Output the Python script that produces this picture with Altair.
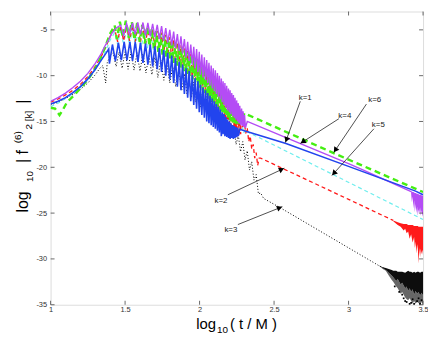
import math
import altair as alt
import pandas as pd

X_DOMAIN = [1, 3.5]
Y_DOMAIN = [-35, -3]
X_TICKS = [1, 1.5, 2, 2.5, 3, 3.5]
Y_TICKS = [-35, -30, -25, -20, -15, -10, -5]

# k=1 (blue, solid)
K1 = [(1.00,-13.1),(1.05,-12.8),(1.10,-12.4),(1.15,-11.85),(1.20,-11.2),(1.25,-10.35),(1.30,-9.3),(1.34,-8.3),(1.37,-7.6),(1.39,-7.1),
      (1.395,-8.7),(1.415,-6.6),(1.435,-8.4),(1.455,-6.4),(1.475,-8.3),(1.494,-6.3),(1.513,-8.3),(1.532,-6.3),(1.55,-8.4),(1.568,-6.3),
      (1.586,-8.5),(1.603,-6.4),(1.62,-8.6),(1.637,-6.5),(1.653,-8.8),(1.669,-6.6),(1.685,-9.0),(1.70,-6.8),(1.716,-9.3),(1.73,-7.0),
      (1.745,-9.6),(1.759,-7.2),(1.773,-10.0),(1.786,-7.5),(1.80,-10.4),(1.813,-7.8),(1.826,-10.8),(1.838,-8.1),(1.851,-11.2),(1.863,-8.5),
      (1.875,-11.6),(1.886,-8.8),(1.898,-12.0),(1.909,-9.2),(1.92,-12.4),(1.93,-9.5),(1.941,-12.8),(1.951,-9.9),(1.961,-13.2),(1.97,-10.3),
      (1.98,-13.6),(1.989,-10.6),(1.998,-14.0),(2.006,-11.0),(2.015,-14.3),(2.023,-11.3),(2.032,-14.6),(2.04,-11.6),(2.048,-15.0),(2.055,-11.9),
      (2.063,-15.2),(2.07,-12.2),(2.078,-15.4),(2.085,-12.5),(2.092,-15.6),(2.099,-12.8),(2.106,-15.8),(2.113,-13.1),(2.12,-16.0),(2.126,-13.4),
      (2.133,-16.2),(2.139,-13.7),(2.146,-16.6),(2.152,-14.0),(2.158,-16.4),(2.164,-14.2),(2.17,-16.6),(2.176,-14.5),(2.182,-16.7),(2.188,-14.8),
      (2.194,-16.8),(2.20,-15.0),(2.205,-16.9),(2.21,-15.2),(2.216,-16.8),(2.222,-15.4),(2.227,-16.9),(2.233,-15.5),(2.238,-16.8),(2.244,-15.6),
      (2.249,-16.7),(2.255,-15.7),(2.26,-16.6),(2.27,-15.85),(2.30,-16.0),(2.58,-17.4),(3.00,-19.9),(3.45,-22.6),(3.50,-23.0)]

# k=4 (purple, solid)
K4 = [(1.00,-12.8),(1.05,-12.4),(1.10,-11.9),(1.15,-11.3),(1.20,-10.6),(1.25,-9.75),(1.30,-8.65),(1.34,-7.6),(1.37,-6.6),(1.39,-6.1),
      (1.41,-5.4),(1.44,-4.8),(1.47,-4.5),(1.49,-5.6),(1.51,-4.3),(1.53,-5.5),(1.55,-4.25),(1.568,-5.5),(1.585,-4.2),(1.603,-5.5),
      (1.62,-4.2),(1.637,-5.6),(1.653,-4.25),(1.669,-5.7),(1.685,-4.35),(1.70,-5.8),(1.716,-4.45),(1.73,-6.0),(1.745,-4.6),(1.759,-6.2),
      (1.773,-4.8),(1.786,-6.4),(1.80,-5.0),(1.813,-6.7),(1.826,-5.2),(1.838,-7.0),(1.851,-5.45),(1.863,-7.3),(1.875,-5.7),(1.886,-7.6),
      (1.898,-6.0),(1.909,-8.0),(1.92,-6.3),(1.93,-8.4),(1.941,-6.6),(1.951,-8.8),(1.961,-6.85),(1.97,-9.2),(1.98,-7.1),(1.989,-9.6),
      (1.998,-7.4),(2.006,-9.9),(2.015,-7.7),(2.023,-10.2),(2.032,-8.0),(2.04,-10.5),(2.048,-8.3),(2.055,-10.8),(2.063,-8.6),(2.07,-11.1),
      (2.078,-8.9),(2.085,-11.4),(2.092,-9.2),(2.099,-11.7),(2.106,-9.4),(2.113,-12.0),(2.12,-9.7),(2.126,-12.3),(2.133,-10.0),(2.139,-12.6),
      (2.146,-10.3),(2.152,-12.9),(2.158,-10.6),(2.164,-13.2),(2.17,-10.8),(2.176,-13.5),(2.182,-11.1),(2.188,-13.8),(2.194,-11.4),(2.20,-14.0),
      (2.205,-11.6),(2.21,-14.2),(2.216,-11.9),(2.222,-14.4),(2.227,-12.1),(2.233,-14.6),(2.238,-12.4),(2.244,-14.8),(2.249,-12.7),(2.255,-15.0),
      (2.26,-13.0),(2.265,-15.2),(2.27,-13.3),(2.276,-15.4),(2.282,-13.6),(2.287,-15.5),(2.292,-13.9),(2.297,-15.6),(2.302,-14.3),(2.308,-15.7),
      (2.32,-15.0),(2.60,-16.9),(3.00,-19.6),(3.10,-20.3),(3.42,-22.65)]
K4_NOISE_X = [3.42, 3.425, 3.43, 3.435, 3.44, 3.445, 3.45, 3.455, 3.46, 3.465, 3.47, 3.475, 3.48, 3.485, 3.49, 3.495, 3.50]
K4_NOISE_TOP = [-22.6, -22.65, -22.7, -22.7, -22.75, -22.8, -22.8, -22.85, -22.9, -22.9, -22.95, -23.0, -23.0, -23.0, -23.05, -23.1, -23.1]
K4_NOISE_LOW = [-22.9, -23.8, -23.2, -24.5, -23.6, -24.9, -24.0, -25.0, -24.3, -25.3, -24.6, -25.0, -24.4, -25.3, -24.7, -25.4, -24.9]

# k=6 (green, thick dashed)
K6 = [(1.00,-13.5),(1.03,-13.6),(1.06,-14.3),(1.08,-13.8),(1.11,-12.9),(1.16,-12.1),(1.21,-11.2),(1.26,-10.2),(1.30,-9.2),(1.34,-7.9),
      (1.37,-6.7),(1.40,-5.4),(1.43,-4.5),(1.445,-6.0),(1.465,-4.1),(1.485,-5.8),(1.505,-4.0),(1.525,-5.9),(1.545,-4.1),(1.563,-6.1),
      (1.581,-4.25),(1.598,-6.3),(1.615,-4.45),(1.632,-6.5),(1.648,-4.65),(1.664,-6.8),(1.679,-4.9),(1.694,-7.1),(1.709,-5.15),(1.723,-7.4),
      (1.737,-5.4),(1.751,-7.7),(1.764,-5.65),(1.777,-8.0),(1.79,-5.9),(1.802,-8.3),(1.814,-6.15),(1.826,-8.6),(1.838,-6.4),(1.85,-8.9),
      (1.861,-6.65),(1.872,-9.2),(1.883,-6.9),(1.894,-9.5),(1.904,-7.2),(1.914,-9.8),(1.924,-7.45),(1.934,-10.1),(1.944,-7.7),(1.953,-10.4),
      (1.962,-7.95),(1.971,-10.7),(1.98,-8.2),(1.989,-11.0),(1.997,-8.45),(2.005,-11.3),(2.013,-8.7),(2.021,-11.6),(2.029,-8.95),(2.037,-11.9),
      (2.045,-9.2),(2.052,-12.2),(2.059,-9.45),(2.066,-12.5),(2.073,-9.7),(2.08,-12.8),(2.087,-9.95),(2.094,-13.0),(2.101,-10.2),(2.108,-13.3),
      (2.114,-10.45),(2.12,-13.5),(2.127,-10.7),(2.133,-13.7),(2.139,-10.95),(2.145,-13.9),(2.151,-11.2),(2.157,-14.1),(2.163,-11.45),(2.169,-14.3),
      (2.175,-11.7),(2.181,-14.5),(2.187,-11.95),(2.193,-14.7),(2.198,-12.2),(2.204,-14.9),(2.21,-12.45),(2.215,-15.0),(2.22,-12.7),(2.226,-15.1),
      (2.231,-12.95),(2.236,-15.2),(2.242,-13.2),(2.247,-15.3),(2.252,-13.4),(2.257,-15.3),(2.262,-13.6),(2.267,-15.3),(2.272,-13.8),(2.277,-15.2),
      (2.283,-14.0),(2.288,-15.0),(2.30,-14.1),(2.90,-18.45),(3.50,-22.7)]

# k=2 (red, dashed)
K2 = [(1.00,-12.9),(1.05,-12.55),(1.10,-12.1),(1.15,-11.6),(1.20,-10.95),(1.25,-10.1),(1.30,-9.0),(1.34,-7.9),(1.37,-6.9),(1.40,-5.7),
      (1.43,-4.9),(1.45,-6.3),(1.47,-4.6),(1.49,-6.2),(1.51,-4.5),(1.53,-6.2),(1.55,-4.5),(1.568,-6.3),(1.586,-4.55),(1.603,-6.4),
      (1.62,-4.6),(1.637,-6.6),(1.653,-4.75),(1.669,-6.8),(1.685,-4.9),(1.70,-7.1),(1.716,-5.1),(1.73,-7.4),(1.745,-5.3),(1.759,-7.7),
      (1.773,-5.55),(1.786,-8.0),(1.80,-5.8),(1.813,-8.3),(1.826,-6.1),(1.838,-8.6),(1.851,-6.4),(1.863,-8.9),(1.875,-6.7),(1.886,-9.3),
      (1.898,-7.0),(1.909,-9.7),(1.92,-7.3),(1.93,-10.1),(1.941,-7.6),(1.951,-10.5),(1.961,-7.9),(1.97,-10.9),(1.98,-8.2),(1.989,-11.2),
      (1.998,-8.5),(2.006,-11.6),(2.015,-8.8),(2.023,-11.9),(2.032,-9.1),(2.04,-12.3),(2.048,-9.4),(2.055,-12.6),(2.063,-9.7),(2.07,-13.0),
      (2.078,-10.0),(2.085,-13.3),(2.092,-10.3),(2.099,-13.6),(2.106,-10.6),(2.113,-13.9),(2.12,-10.9),(2.126,-14.2),(2.133,-11.2),(2.139,-14.5),
      (2.146,-11.5),(2.152,-14.8),(2.158,-11.8),(2.164,-15.1),(2.17,-12.1),(2.176,-15.4),(2.182,-12.4),(2.188,-15.7),(2.194,-12.7),(2.20,-16.0),
      (2.205,-13.0),(2.21,-16.2),(2.216,-13.3),(2.222,-16.4),(2.227,-13.6),(2.233,-16.5),(2.238,-13.9),(2.244,-16.6),(2.249,-14.1),(2.255,-16.6),
      (2.26,-14.2),(2.265,-16.5),(2.27,-14.3),(2.276,-16.4),(2.28,-14.4),(2.29,-15.6),(2.30,-15.0),(2.31,-16.3),(2.32,-15.7),(2.33,-17.2),
      (2.34,-16.6),(2.35,-18.0),(2.36,-17.5),(2.37,-19.0),(2.38,-18.4),(2.39,-19.8),(2.40,-19.0),(2.41,-19.0),(3.00,-23.5),(3.30,-25.8)]
K2_NOISE_X = [3.30, 3.33, 3.35, 3.37, 3.38, 3.39, 3.40, 3.41, 3.42, 3.43, 3.44, 3.445, 3.45, 3.455, 3.46, 3.465, 3.47, 3.475, 3.48, 3.485, 3.49, 3.495, 3.50]
K2_NOISE_TOP = [-25.8, -26.0, -26.1, -26.2, -26.2, -26.2, -26.3, -26.3, -26.3, -26.3, -26.4, -26.4, -26.4, -26.4, -26.4, -26.4, -26.5, -26.5, -26.5, -26.5, -26.5, -26.5, -26.5]
K2_NOISE_LOW = [-25.9, -26.3, -26.5, -26.9, -26.7, -27.2, -27.0, -27.8, -27.3, -28.2, -27.6, -28.8, -28.1, -29.4, -28.4, -28.9, -30.5, -28.8, -29.8, -28.9, -29.5, -29.0, -29.6]

# k=5 (cyan, dashed)
K5 = [(1.00,-13.4),(1.05,-13.0),(1.10,-12.5),(1.15,-11.95),(1.20,-11.3),(1.25,-10.45),(1.30,-9.35),(1.34,-8.3),(1.37,-7.3),(1.40,-6.1),
      (1.43,-5.3),(1.45,-6.6),(1.47,-4.9),(1.49,-6.7),(1.51,-4.85),(1.53,-6.7),(1.55,-4.8),(1.57,-6.8),(1.59,-4.85),(1.61,-6.9),
      (1.63,-4.9),(1.65,-7.0),(1.67,-5.05),(1.69,-7.2),(1.71,-5.25),(1.73,-7.5),(1.75,-5.55),(1.77,-7.8),(1.79,-5.9),(1.81,-8.2),
      (1.83,-6.3),(1.85,-8.6),(1.87,-6.8),(1.89,-9.1),(1.91,-7.3),(1.93,-9.6),(1.95,-7.9),(1.965,-10.1),(1.98,-8.3),(1.995,-10.6),
      (2.01,-8.7),(2.025,-11.1),(2.04,-9.2),(2.055,-11.6),(2.07,-9.7),(2.085,-12.1),(2.10,-10.3),(2.115,-12.7),(2.13,-10.9),(2.145,-13.3),
      (2.16,-11.6),(2.175,-13.9),(2.19,-12.3),(2.205,-14.5),(2.22,-13.0),(2.235,-15.1),(2.25,-13.9),(2.265,-15.8),(2.28,-14.7),(2.295,-16.3),
      (2.31,-15.8),(2.33,-16.2),(3.50,-25.7)]

# k=3 (black, dotted)
K3 = [(1.00,-13.2),(1.05,-12.9),(1.10,-12.5),(1.15,-12.05),(1.20,-11.5),(1.25,-10.8),(1.30,-9.9),(1.33,-9.2),(1.35,-8.9),(1.37,-10.8),
      (1.38,-8.6),(1.40,-7.8),(1.42,-7.5),(1.44,-9.0),(1.46,-7.4),(1.48,-9.2),(1.50,-7.4),(1.52,-9.3),(1.54,-7.4),(1.56,-9.4),
      (1.58,-7.5),(1.60,-9.5),(1.62,-7.6),(1.64,-9.7),(1.66,-7.8),(1.68,-9.9),(1.70,-8.0),(1.72,-10.2),(1.74,-8.3),(1.76,-10.5),
      (1.78,-8.6),(1.80,-10.8),(1.82,-9.0),(1.84,-11.2),(1.86,-9.4),(1.88,-11.6),(1.90,-9.8),(1.915,-12.0),(1.93,-10.2),(1.945,-12.4),
      (1.96,-10.7),(1.975,-12.9),(1.99,-11.2),(2.005,-13.4),(2.02,-11.7),(2.035,-13.9),(2.05,-12.2),(2.065,-14.4),(2.08,-12.8),(2.095,-14.9),
      (2.11,-13.3),(2.125,-15.4),(2.14,-13.9),(2.155,-15.9),(2.17,-14.5),(2.185,-16.3),(2.20,-15.0),(2.215,-16.7),(2.23,-15.6),(2.245,-17.5),
      (2.26,-16.5),(2.275,-18.3),(2.29,-17.2),(2.305,-19.2),(2.32,-18.2),(2.335,-20.3),(2.35,-19.4),(2.365,-21.4),(2.38,-20.8),(2.395,-22.9),
      (2.41,-22.8),(2.43,-23.4),(2.54,-24.4),(3.20,-30.7),(3.27,-31.3)]
K3_NOISE_X = [3.20, 3.23, 3.25, 3.27, 3.29, 3.30, 3.32, 3.33, 3.35, 3.36, 3.38, 3.39, 3.40, 3.41, 3.42, 3.43, 3.44, 3.45, 3.46, 3.47, 3.48, 3.49, 3.50]
K3_NOISE_TOP = [-30.7, -30.9, -31.0, -31.1, -31.2, -31.3, -31.3, -31.4, -31.4, -31.4, -31.5, -31.4, -31.3, -31.4, -31.4, -31.5, -31.4, -31.5, -31.4, -31.4, -31.5, -31.4, -31.4]
K3_NOISE_MID = [-30.7, -31.0, -31.2, -31.5, -31.8, -32.0, -32.4, -32.2, -32.8, -32.6, -33.2, -33.0, -33.5, -33.2, -33.6, -33.3, -33.9, -33.5, -33.8, -33.6, -34.0, -33.7, -34.0]
K3_NOISE_LOW = [-30.7, -31.1, -31.3, -31.8, -32.3, -32.5, -33.0, -33.2, -33.8, -33.6, -34.2, -34.4, -34.5, -34.3, -34.6, -34.9, -34.6, -34.9, -34.7, -34.8, -35.0, -34.7, -35.0]
K3_SPECK_X = [3.34, 3.37, 3.39, 3.41, 3.43, 3.44, 3.46, 3.48, 3.49, 3.36, 3.42, 3.47, 3.31, 3.38]
K3_SPECK_Y = [-33.6, -34.3, -34.7, -34.9, -34.4, -34.9, -34.6, -34.9, -34.5, -33.9, -34.8, -34.3, -33.0, -34.6]

# annotations: label position, arrow start, arrow tip
LABELS = ["k=1", "k=4", "k=6", "k=5", "k=2", "k=3"]
LAB_X = [2.709, 2.975, 3.176, 3.200, 2.144, 2.210]
LAB_Y = [-12.44, -14.40, -12.66, -15.40, -23.70, -26.90]
ARR_X0 = [2.676, 2.935, 3.120, 3.170, 2.190, 2.257]
ARR_Y0 = [-12.80, -14.70, -13.10, -15.80, -23.00, -26.25]
ARR_X1 = [2.576, 2.676, 2.900, 2.888, 2.569, 2.556]
ARR_Y1 = [-17.30, -17.40, -18.40, -20.90, -20.10, -24.30]

W, H = 376, 296
XS = alt.Scale(domain=X_DOMAIN, nice=False, zero=False)
YS = alt.Scale(domain=Y_DOMAIN, nice=False, zero=False)
FONT = "Liberation Sans"
AX = alt.Axis(values=X_TICKS, grid=False, ticks=False, domain=False, labelFontSize=7.5,
              labelColor="#333", labelPadding=1, labelFont=FONT, title=None,
              labelExpr="'' + datum.value", labelFlush=False)
AY = alt.Axis(values=Y_TICKS, grid=False, ticks=False, domain=False, labelFontSize=7.5,
              labelColor="#333", labelPadding=4, labelFont=FONT, title=None,
              labelExpr="'' + datum.value", labelFlush=False)


def X(f):
    return alt.X(f, scale=XS, axis=AX)


def Y(f):
    return alt.Y(f, scale=YS, axis=AY)


def curve(pts, color, width, dash=None):
    df = pd.DataFrame(pts, columns=["x", "y"])
    df["i"] = range(len(df))
    mk = dict(color=color, strokeWidth=width, clip=True, strokeJoin="miter")
    if dash:
        mk["strokeDash"] = dash
    return alt.Chart(df).mark_line(**mk).encode(x=X("x:Q"), y=Y("y:Q"), order="i:Q")


def band(xs, top, low, color, opacity=1.0):
    df = pd.DataFrame({"x": xs, "top": top, "low": low})
    return alt.Chart(df).mark_area(color=color, opacity=opacity, clip=True).encode(
        x=X("x:Q"), y=Y("top:Q"), y2="low:Q")


layers = []
layers.append(curve(K3, "#000000", 1.0, dash=[1, 2]))
layers.append(band(K3_NOISE_X, K3_NOISE_TOP, K3_NOISE_MID, "#000000", 0.95))
layers.append(band(K3_NOISE_X, K3_NOISE_MID, K3_NOISE_LOW, "#000000", 0.6))
layers.append(alt.Chart(pd.DataFrame({"x": K3_SPECK_X, "y": K3_SPECK_Y})).mark_square(
    size=3, color="#000", opacity=1).encode(x=X("x:Q"), y=Y("y:Q")))
layers.append(curve(K5, "#6feeee", 1.2, dash=[4, 3]))
layers.append(curve(K2, "#ff1a1a", 1.3, dash=[4, 3]))
layers.append(band(K2_NOISE_X, K2_NOISE_TOP, K2_NOISE_LOW, "#ff1a1a"))
layers.append(curve(K6, "#44ee11", 2.4, dash=[6, 4]))
layers.append(curve(K4, "#b44cf5", 1.4))
layers.append(band(K4_NOISE_X, K4_NOISE_TOP, K4_NOISE_LOW, "#b44cf5"))
layers.append(curve(K1, "#2244ee", 1.6))

# inward ticks (box style)
xt = pd.DataFrame({"x": X_TICKS})
yt = pd.DataFrame({"y": Y_TICKS})
tick_style = dict(color="#444", strokeWidth=0.8)
layers.append(alt.Chart(xt).mark_rule(**tick_style).encode(x=X("x:Q"), y=alt.value(H), y2=alt.value(H - 4)))
layers.append(alt.Chart(xt).mark_rule(**tick_style).encode(x=X("x:Q"), y=alt.value(0), y2=alt.value(4)))
layers.append(alt.Chart(yt).mark_rule(**tick_style).encode(y=Y("y:Q"), x=alt.value(0), x2=alt.value(4)))
layers.append(alt.Chart(yt).mark_rule(**tick_style).encode(y=Y("y:Q"), x=alt.value(W), x2=alt.value(W - 4)))

# annotation arrows
sx = W / (X_DOMAIN[1] - X_DOMAIN[0])
sy = H / (Y_DOMAIN[1] - Y_DOMAIN[0])
ang, hx, hy = [], [], []
for x0, y0, x1, y1 in zip(ARR_X0, ARR_Y0, ARR_X1, ARR_Y1):
    dx = (x1 - x0) * sx
    dy = -(y1 - y0) * sy
    L = math.hypot(dx, dy)
    ang.append(math.degrees(math.atan2(dx, -dy)) % 360)
    hx.append(x1 - 3.0 * dx / L / sx)
    hy.append(y1 + 3.0 * dy / L / sy)
ann = pd.DataFrame({"label": LABELS, "lx": LAB_X, "ly": LAB_Y, "x0": ARR_X0, "y0": ARR_Y0,
                    "x1": ARR_X1, "y1": ARR_Y1, "hx": hx, "hy": hy, "ang": ang})
layers.append(alt.Chart(ann).mark_rule(color="#222", strokeWidth=0.8).encode(
    x=X("x0:Q"), y=Y("y0:Q"), x2="x1:Q", y2="y1:Q"))
layers.append(alt.Chart(ann).mark_point(shape="triangle-up", filled=True, color="#000", size=38, opacity=1).encode(
    x=X("hx:Q"), y=Y("hy:Q"), angle=alt.Angle("ang:Q", scale=None)))
layers.append(alt.Chart(ann).mark_text(font=FONT, fontSize=8, color="#222").encode(
    x=X("lx:Q"), y=Y("ly:Q"), text="label:N"))


# axis titles made of pieces (sub/superscripts)
def txt(s, x, y, size, angle=0):
    return alt.Chart(pd.DataFrame({"t": [s]})).mark_text(
        font=FONT, fontSize=size, color="#000", align="left", baseline="alphabetic", angle=angle
    ).encode(text="t:N", x=alt.value(x), y=alt.value(y))


layers += [
    txt("log", 147, 320, 15),
    txt("10", 168, 325, 10),
    txt("( t / M )", 181, 320, 15),
    txt("log", -23, 203, 16, 270),
    txt("10", -18, 172, 10, 270),
    txt("|  f", -23, 153, 16, 270),
    txt("(6)", -30, 133, 10, 270),
    txt("2  [k]", -19, 119, 10, 270),
    txt("|", -23, 93, 16, 270),
]

chart = alt.layer(*layers).properties(
    width=W, height=H,
    autosize=alt.AutoSizeParams(type="none"),
    padding={"left": 43, "top": 2, "right": 5, "bottom": 29},
).configure_view(stroke="#444", strokeWidth=1).configure(background="white")

chart.save("out.html", embed_options={"renderer": "svg", "actions": False})
